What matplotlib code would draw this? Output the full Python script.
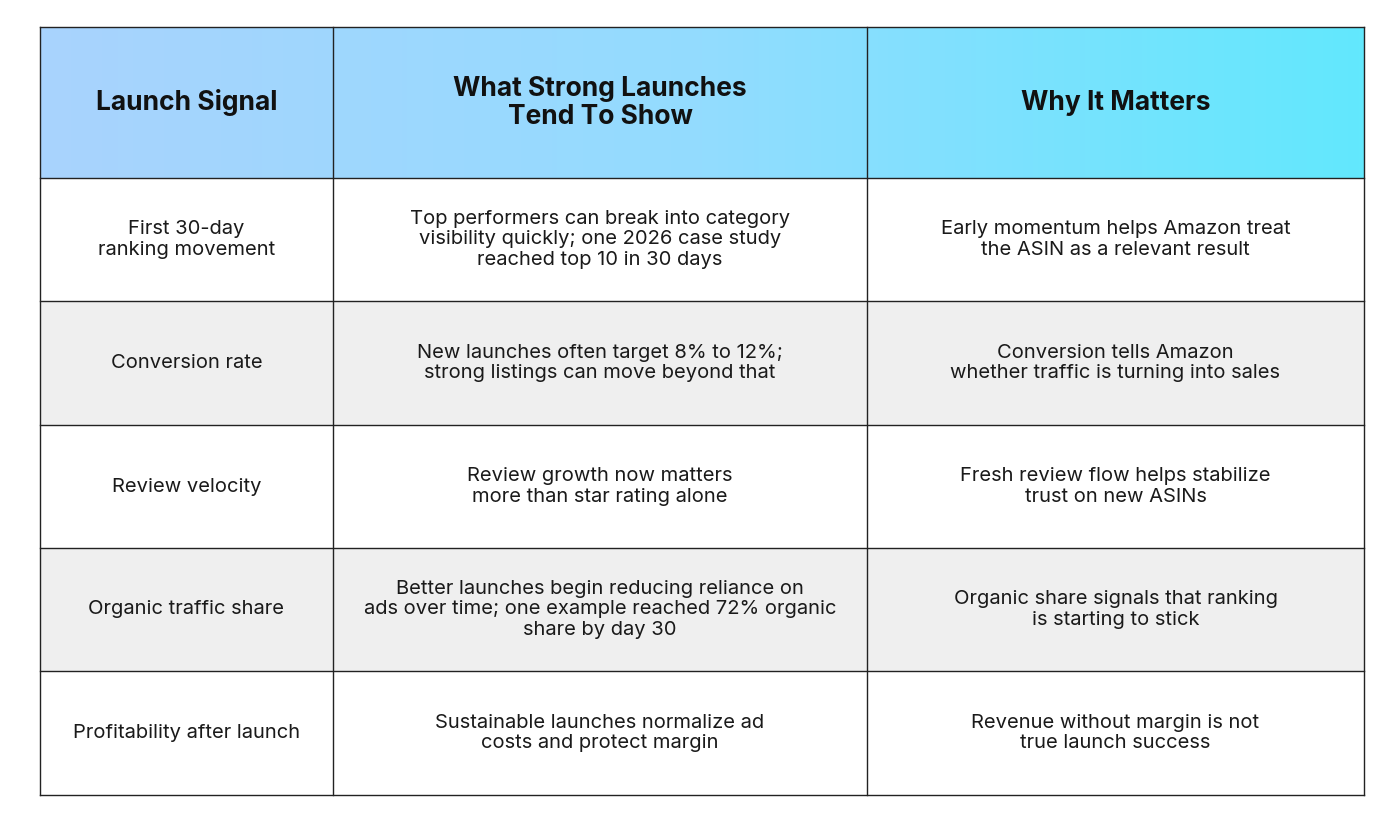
import numpy as np
import matplotlib.pyplot as plt
from matplotlib.colors import LinearSegmentedColormap

plt.rcParams['font.family'] = ['Inter', 'DejaVu Sans']

headers = ["Launch Signal", "What Strong Launches\nTend To Show", "Why It Matters"]
signals = ["First 30-day\nranking movement", "Conversion rate", "Review velocity",
           "Organic traffic share", "Profitability after launch"]
shows = ["Top performers can break into category\nvisibility quickly; one 2026 case study\nreached top 10 in 30 days",
         "New launches often target 8% to 12%;\nstrong listings can move beyond that",
         "Review growth now matters\nmore than star rating alone",
         "Better launches begin reducing reliance on\nads over time; one example reached 72% organic\nshare by day 30",
         "Sustainable launches normalize ad\ncosts and protect margin"]
matters = ["Early momentum helps Amazon treat\nthe ASIN as a relevant result",
           "Conversion tells Amazon\nwhether traffic is turning into sales",
           "Fresh review flow helps stabilize\ntrust on new ASINs",
           "Organic share signals that ranking\nis starting to stick",
           "Revenue without margin is not\ntrue launch success"]

col_x = [40, 333, 867, 1364]
row_y = [27, 178, 301, 425, 548, 671, 795]

fig = plt.figure(figsize=(14, 8.26), dpi=100)
ax = fig.add_axes([0, 0, 1, 1])
ax.set_xlim(0, 1400)
ax.set_ylim(826, 0)
ax.axis('off')

# header gradient
cmap = LinearSegmentedColormap.from_list('hdr', ['#a9d3fd', '#93dcff', '#62e8fd'])
grad = np.linspace(0, 1, 256).reshape(1, -1)
ax.imshow(grad, cmap=cmap, aspect='auto', extent=(col_x[0], col_x[-1], row_y[1], row_y[0]), zorder=0)

# zebra rows
for i in range(len(signals)):
    if i % 2 == 1:
        ax.fill_between([col_x[0], col_x[-1]], row_y[i + 1], row_y[i + 2], color='#efefef', zorder=0, lw=0)

# grid
for x in col_x:
    ax.plot([x, x], [row_y[0], row_y[-1]], color='#222222', lw=1, zorder=2)
for y in row_y:
    ax.plot([col_x[0], col_x[-1]], [y, y], color='#222222', lw=1, zorder=2)

for j, h in enumerate(headers):
    ax.text((col_x[j] + col_x[j + 1]) / 2, (row_y[0] + row_y[1]) / 2, h, ha='center', va='center',
            fontsize=19, fontweight='bold', color='#111111', linespacing=1.1, zorder=3)

for i in range(len(signals)):
    yc = (row_y[i + 1] + row_y[i + 2]) / 2
    for j, txt in enumerate([signals[i], shows[i], matters[i]]):
        ax.text((col_x[j] + col_x[j + 1]) / 2, yc, txt, ha='center', va='center',
                fontsize=14.5, color='#1a1a1a', linespacing=1.15, zorder=3)

fig.savefig('out.png', dpi=100)
